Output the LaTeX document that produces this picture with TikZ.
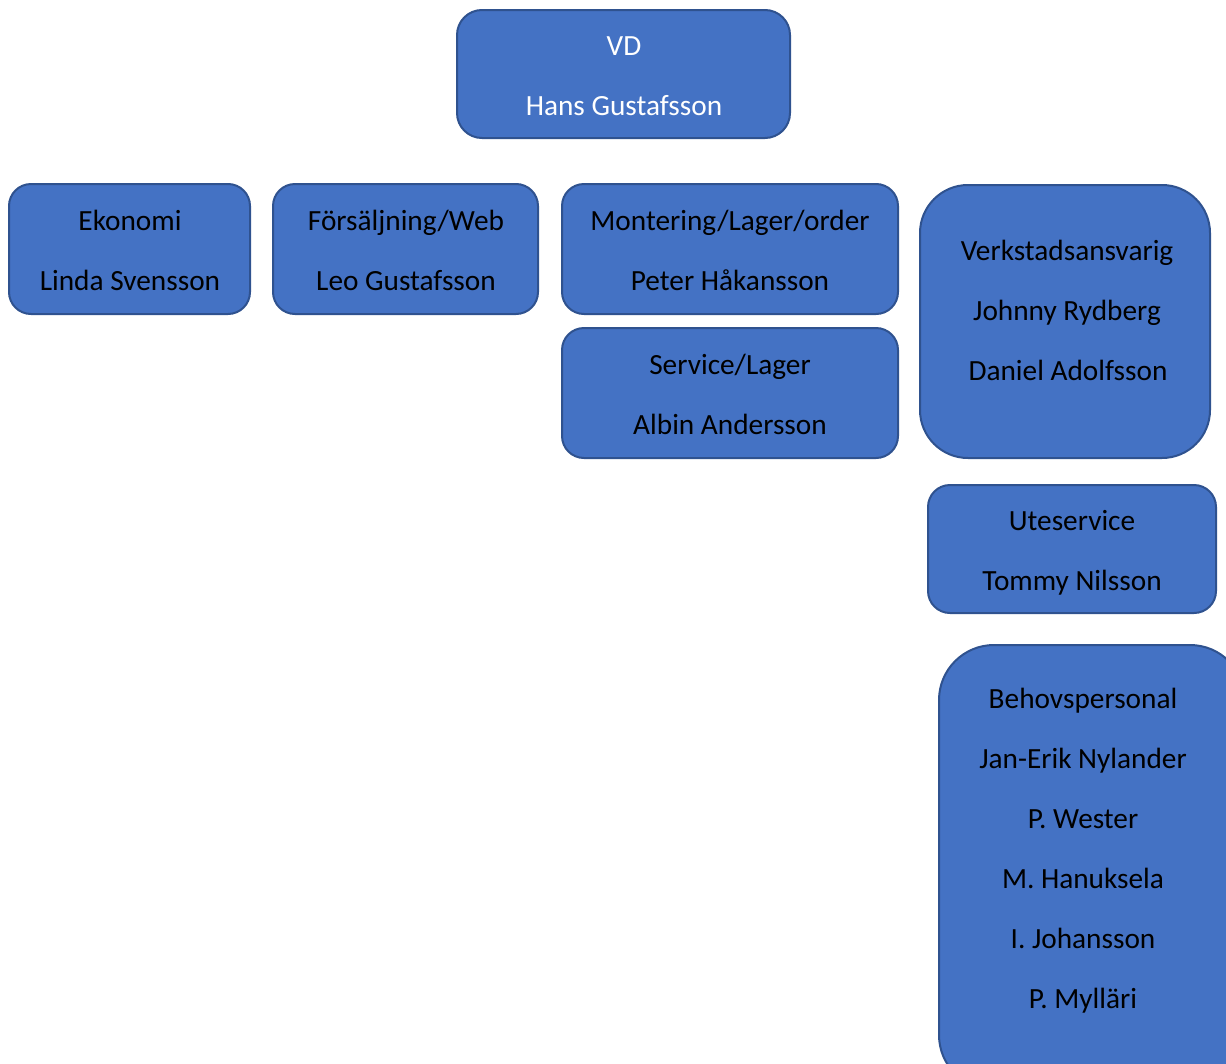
\documentclass[tikz,border=0pt]{standalone}
\usepackage{fontspec}
\setmainfont{Carlito}
\definecolor{boxfill}{HTML}{4472C4}
\definecolor{boxline}{HTML}{2F528F}
\begin{document}
\begin{tikzpicture}[x=1pt,y=-1pt,
  orgbox/.style={draw=boxline, fill=boxfill, line width=2pt},
  lbl/.style={anchor=base, inner sep=0pt, font=\fontsize{29.3}{34}\selectfont, text=black},
  wlbl/.style={lbl, text=white}]
\useasboundingbox (0,0) rectangle (1226,1063);
\clip (0,0) rectangle (1226,1063);
% VD
\draw[orgbox, rounded corners=25] (457,10) rectangle (790,138);
\node[wlbl] (vdT) at (624,55) {VD};
\node[wlbl] (vdN) at (624,115) {Hans Gustafsson};
% Ekonomi
\draw[orgbox, rounded corners=22] (9,184) rectangle (250,314);
\node[lbl] (ekT) at (130,230) {Ekonomi};
\node[lbl] (ekN) at (130,290) {Linda Svensson};
% Försäljning
\draw[orgbox, rounded corners=22] (273,184) rectangle (538,314);
\node[lbl] (foT) at (406,230) {Försäljning/Web};
\node[lbl] (foN) at (406,290) {Leo Gustafsson};
% Montering
\draw[orgbox, rounded corners=22] (562,184) rectangle (898,314);
\node[lbl] (moT) at (730,230) {Montering/Lager/order};
\node[lbl] (moN) at (730,290) {Peter Håkansson};
% Service
\draw[orgbox, rounded corners=22] (562,328) rectangle (898,458);
\node[lbl] (seT) at (730,374) {Service/Lager};
\node[lbl] (seN) at (730,434) {Albin Andersson};
% Verkstad
\draw[orgbox, rounded corners=48] (920,185) rectangle (1210,458);
\node[lbl] (veT) at (1067,260) {Verkstadsansvarig};
\node[lbl] (veN1) at (1067,320) {Johnny Rydberg};
\node[lbl] (veN2) at (1068,380) {Daniel Adolfsson};
% Uteservice
\draw[orgbox, rounded corners=22] (928,485) rectangle (1216,613);
\node[lbl] (utT) at (1072,530) {Uteservice};
\node[lbl] (utN) at (1072,590) {Tommy Nilsson};
% Behovspersonal
\draw[orgbox, rounded corners=55] (939,645) rectangle (1245,1090);
\node[lbl] (beT) at (1083,708) {Behovspersonal};
\node[lbl] (be1) at (1083,768) {Jan-Erik Nylander};
\node[lbl] (be2) at (1083,828) {P. Wester};
\node[lbl] (be3) at (1083,888) {M. Hanuksela};
\node[lbl] (be4) at (1083,948) {I. Johansson};
\node[lbl] (be5) at (1083,1008) {P. Mylläri};
\end{tikzpicture}
\end{document}
